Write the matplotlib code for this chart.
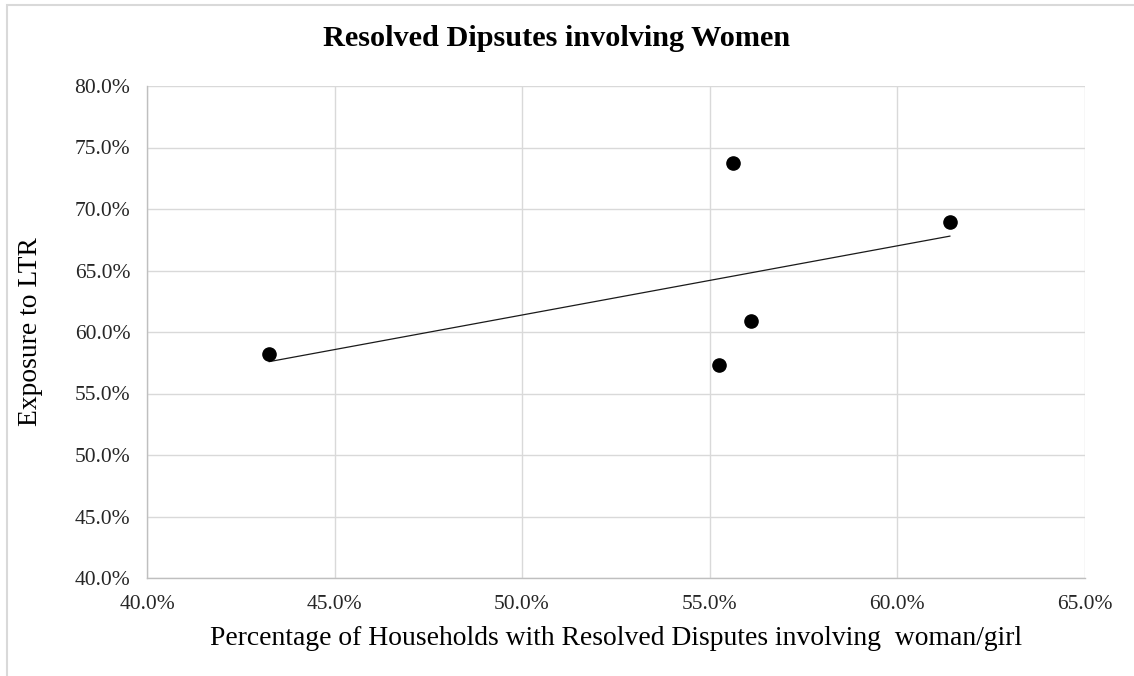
import numpy as np
import matplotlib
matplotlib.use("Agg")
import matplotlib.pyplot as plt
from matplotlib.ticker import PercentFormatter
from matplotlib.patches import Rectangle

# Data (percent)
x_vals = [43.26, 55.62, 56.10, 55.24, 61.41]
y_vals = [58.19, 73.72, 60.87, 57.34, 68.94]
x_ticks = [40, 45, 50, 55, 60, 65]
y_ticks = [40, 45, 50, 55, 60, 65, 70, 75, 80]

title = "Resolved Dipsutes involving Women"
xlabel = "Percentage of Households with Resolved Disputes involving  woman/girl"
ylabel = "Exposure to LTR"

plt.rcParams['font.family'] = ['Liberation Serif', 'DejaVu Serif']

W, H = 1134, 676
fig = plt.figure(figsize=(W / 100, H / 100), dpi=100)
fig.patch.set_facecolor('white')

# outer chart border
fig.patches.append(Rectangle((7 / W, -0.1), 1.2, 1 - 5 / H + 0.1, transform=fig.transFigure,
                             fill=False, edgecolor='#d9d9d9', linewidth=1.5))

ax = fig.add_axes([147 / W, (H - 578) / H, (1084.5 - 147) / W, (578 - 86) / H])
ax.set_xlim(40, 65)
ax.set_ylim(40, 80)
ax.set_xticks(x_ticks)
ax.set_yticks(y_ticks)
ax.xaxis.set_major_formatter(PercentFormatter(decimals=1))
ax.yaxis.set_major_formatter(PercentFormatter(decimals=1))
ax.grid(True, color='#d9d9d9', linewidth=1.0)
ax.set_axisbelow(True)
for s in ['top', 'right']:
    ax.spines[s].set_visible(False)
for s in ['left', 'bottom']:
    ax.spines[s].set_color('#bfbfbf')
    ax.spines[s].set_linewidth(1.0)
ax.tick_params(length=0, labelsize=15.5, colors='#262626')
ax.tick_params(axis='x', pad=12.5)
ax.tick_params(axis='y', pad=12)

# trendline (linear fit)
xa = np.array(x_vals)
ya = np.array(y_vals)
m, b = np.polyfit(xa, ya, 1)
xt = np.array([xa.min(), xa.max()])
ax.plot(xt, m * xt + b, color='#1a1a1a', linewidth=0.9, zorder=2)

ax.plot(x_vals, y_vals, linestyle='none', marker='o', markersize=9.5,
        color='black', zorder=3)

fig.text(557 / W, 1 - 46 / H, title, ha='center', va='baseline',
         fontsize=21.8, fontweight='bold', color='black')
fig.text(616 / W, 1 - 645 / H, xlabel, ha='center', va='baseline',
         fontsize=19.9, color='black')
fig.text(31 / W, 1 - 332 / H, ylabel, ha='center', va='center', rotation=90,
         fontsize=19.8, color='black')

fig.savefig('out.png', dpi=100, facecolor='white')
